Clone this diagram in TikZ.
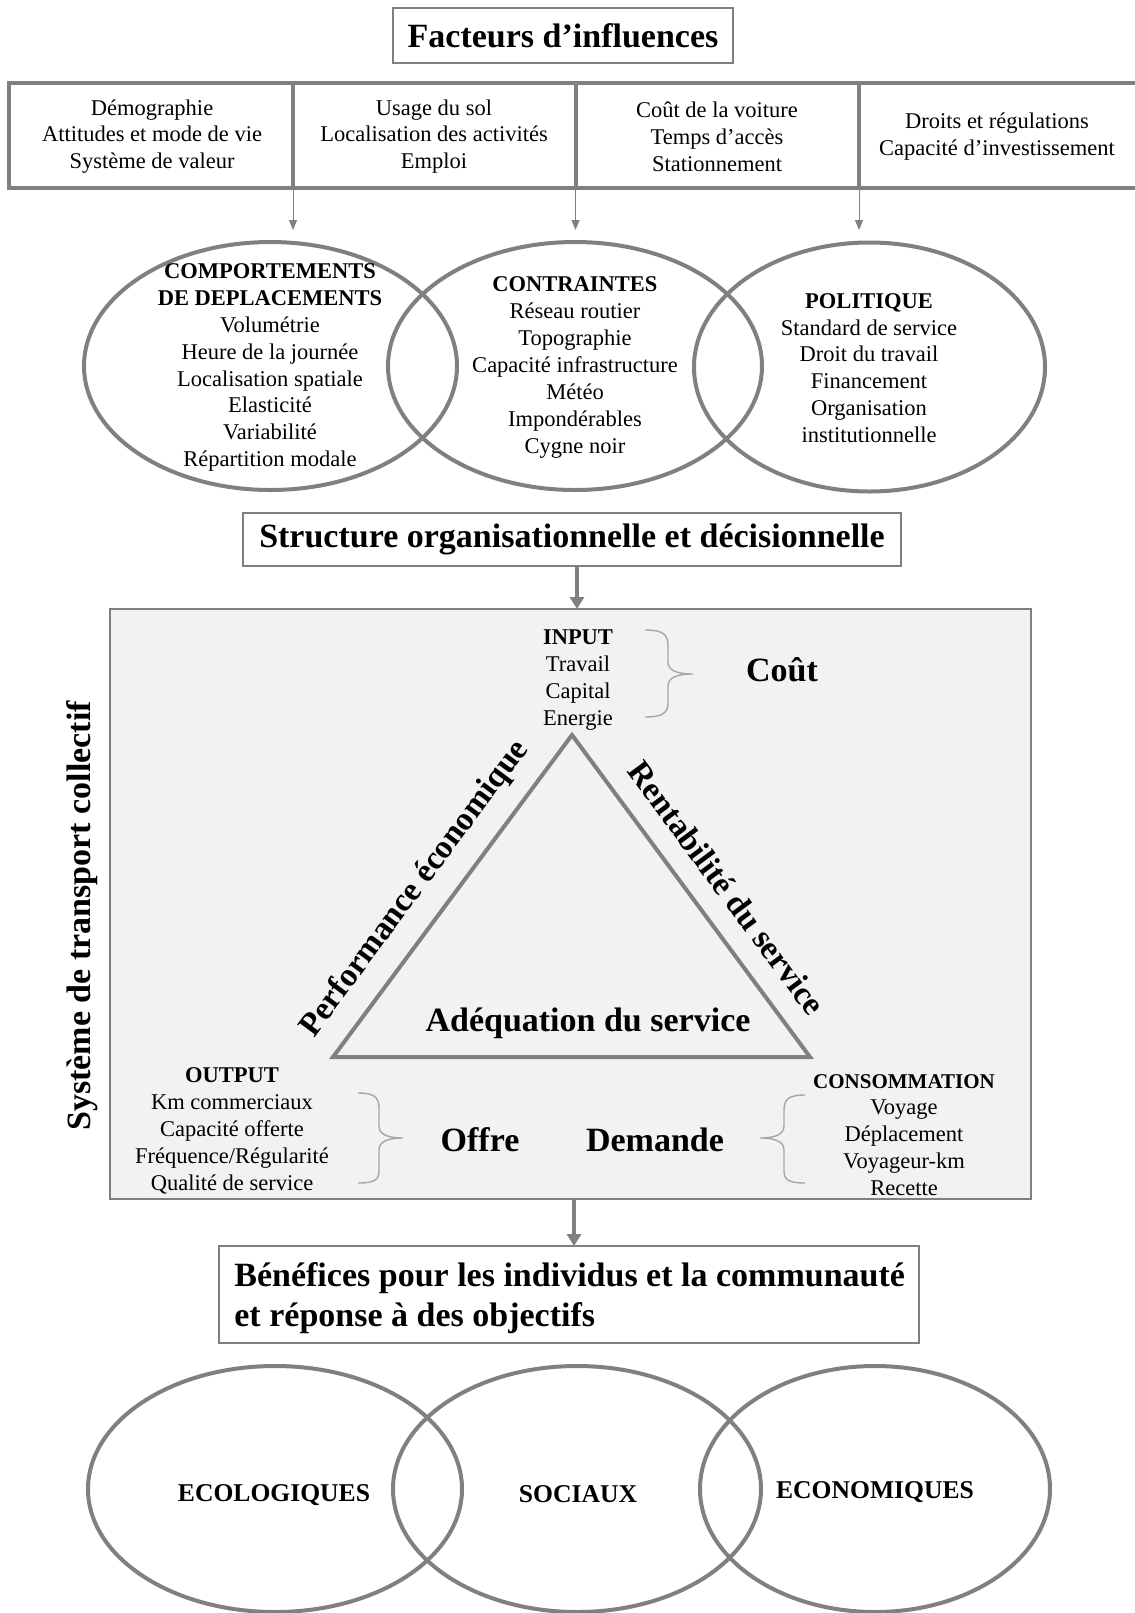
\documentclass[tikz,border=0pt]{standalone}
\usepackage{fontspec}
\setmainfont{Liberation Serif}
\usetikzlibrary{shapes.geometric,arrows.meta}
\definecolor{lg}{HTML}{808080}
\definecolor{bg}{HTML}{F2F2F2}
\definecolor{br}{HTML}{A6A6A6}
\begin{document}
\begin{tikzpicture}[x=0.5pt,y=-0.5pt,
  ell/.style={draw=lg, line width=2pt, ellipse, inner sep=0pt, outer sep=0pt},
  cell/.style={draw=lg, line width=2pt, rectangle, inner sep=0pt, outer sep=0pt, minimum height=52.5pt},
  tx/.style={font=\fontsize{11.25}{13.45}\selectfont, align=center, inner sep=0pt},
  big/.style={font=\bfseries\fontsize{17}{20}\selectfont, inner sep=0pt},
  side/.style={font=\bfseries\fontsize{16.5}{20}\selectfont, inner sep=0pt},
  lbl/.style={font=\bfseries\fontsize{12.8}{15}\selectfont, inner sep=0pt},
  thinbox/.style={draw=lg, line width=0.9pt, inner sep=0pt, outer sep=0pt},
  thinarr/.style={draw=lg, line width=0.5pt, -{Triangle[length=5pt,width=4pt]}},
  thickarr/.style={draw=lg, line width=2pt, -{Triangle[length=6pt,width=7pt]}},
  bracestyle/.style={draw=br, line width=0.7pt}]
\fill[white] (0,0) rectangle (1135,1613);
\useasboundingbox (0,0) rectangle (1135,1613);

% title
\node[thinbox, minimum width=170pt, minimum height=27.5pt, big] (title) at (563,35.5) {Facteurs d’influences};

% table
\node[cell, minimum width=142pt] (c1) at (151,135.5) {};
\node[cell, minimum width=141.25pt] (c2) at (434.25,135.5) {};
\node[cell, minimum width=141.75pt] (c3) at (717.25,135.5) {};
\node[cell, minimum width=140.5pt] (c4) at (999.5,135.5) {};
\node[tx] (t1) at (152,136.5) {Démographie\\Attitudes et mode de vie\\Système de valeur};
\node[tx] (t2) at (434,136.5) {Usage du sol\\Localisation des activités\\Emploi};
\node[tx] (t3) at (717,136.5) {Coût de la voiture\\Temps d’accès\\Stationnement};
\node[tx] (t4) at (997,136.5) {Droits et régulations\\Capacité d’investissement};

\draw[thinarr] (c1.south east) -- ++(0,42);
\draw[thinarr] (c2.south east) -- ++(0,42);
\draw[thinarr] (c3.south east) -- ++(0,42);

% top ellipses
\node[ell, minimum width=186.5pt, minimum height=124pt] (e1) at (270.5,366) {};
\node[ell, minimum width=187pt, minimum height=124pt] (e2) at (575,366) {};
\node[ell, minimum width=175.5pt, minimum height=124.5pt] (e3) at (869.5,367) {};
\node[tx] (e1t) at (270,367.5) {\textbf{COMPORTEMENTS}\\\textbf{DE DEPLACEMENTS}\\Volumétrie\\Heure de la journée\\Localisation spatiale\\Elasticité\\Variabilité\\Répartition modale};
\node[tx] (e2t) at (575,367.5) {\textbf{CONTRAINTES}\\Réseau routier\\Topographie\\Capacité infrastructure\\Météo\\Impondérables\\Cygne noir};
\node[tx] (e3t) at (869,368) {\textbf{POLITIQUE}\\Standard de service\\Droit du travail\\Financement\\Organisation\\institutionnelle};

% structure box
\node[thinbox, minimum width=329pt, minimum height=26.5pt, big] (struct) at (572,539.5) {Structure organisationnelle et décisionnelle};

% system box
\node[draw=lg, line width=0.9pt, fill=bg, minimum width=460.5pt, minimum height=295pt, inner sep=0pt, outer sep=0pt] (sys) at (570.5,904) {};
\coordinate (ax1) at (577,0);
\coordinate (ax2) at (574,0);
\draw[thickarr] (struct.south -| ax1) -- (sys.north -| ax1);

\node[big, rotate=90] (vt) at (82,916) {Système de transport collectif};

% input
\node[tx] (in) at (578,680) {\textbf{INPUT}\\Travail\\Capital\\Energie};
\draw[bracestyle] (645,630) .. controls (662,630) and (668,634) .. (668,645) -- (668,662) .. controls (668,670) and (676,674) .. (693,674) .. controls (676,674) and (668,678) .. (668,686) -- (668,703) .. controls (668,713) and (662,717) .. (645,717);
\node[big] (cout) at (782,670) {Coût};

% triangle
\coordinate (A) at (572,735);
\coordinate (B) at (333,1057);
\coordinate (C) at (810,1057);
\draw[draw=lg, line width=2pt, line join=miter] (A) -- (B) -- (C) -- cycle;
\node[side, rotate=53.4] (pe) at (415,889) {Performance économique};
\node[side, rotate=-53.4] (rs) at (727,888) {Rentabilité du service};
\node[big] (adq) at (588,1023) {Adéquation du service};

% output / consommation
\node[tx] (out) at (232,1131) {\textbf{OUTPUT}\\Km commerciaux\\Capacité offerte\\Fréquence/Régularité\\Qualité de service};
\draw[bracestyle] (358,1093) .. controls (374,1093) and (379,1097) .. (379,1108) -- (379,1126) .. controls (379,1134) and (387,1138) .. (403,1138) .. controls (387,1138) and (379,1142) .. (379,1150) -- (379,1171) .. controls (379,1180) and (374,1183) .. (358,1183);
\node[big] (offre) at (480,1140) {Offre};
\node[big] (dem) at (655,1140) {Demande};
\draw[bracestyle] (805,1095) .. controls (789,1095) and (784,1099) .. (784,1110) -- (784,1126) .. controls (784,1134) and (776,1138) .. (760,1138) .. controls (776,1138) and (784,1142) .. (784,1150) -- (784,1171) .. controls (784,1180) and (789,1183) .. (805,1183);
\node[tx] (cons) at (904,1135) {{\bfseries\fontsize{10.5}{13.45}\selectfont CONSOMMATION}\\Voyage\\Déplacement\\Voyageur-km\\Recette};

% benefices
\node[thinbox, minimum width=350pt, minimum height=48.5pt] (bene) at (569,1294.5) {};
\node[big, anchor=west, align=left, font=\bfseries\fontsize{17}{20}\selectfont] (benet) at (234,1298) {Bénéfices pour les individus et la communauté\\et réponse à des objectifs};
\draw[thickarr] (sys.south -| ax2) -- (bene.north -| ax2);

% bottom ellipses
\node[ell, minimum width=187pt, minimum height=123pt] (b1) at (275,1489) {};
\node[ell, minimum width=184pt, minimum height=123pt] (b2) at (577,1489) {};
\node[ell, minimum width=175pt, minimum height=123pt] (b3) at (875,1489) {};
\node[lbl] (b1t) at (274,1495) {ECOLOGIQUES};
\node[lbl] (b2t) at (578,1494) {SOCIAUX};
\node[lbl] (b3t) at (875,1492) {ECONOMIQUES};
\end{tikzpicture}
\end{document}
